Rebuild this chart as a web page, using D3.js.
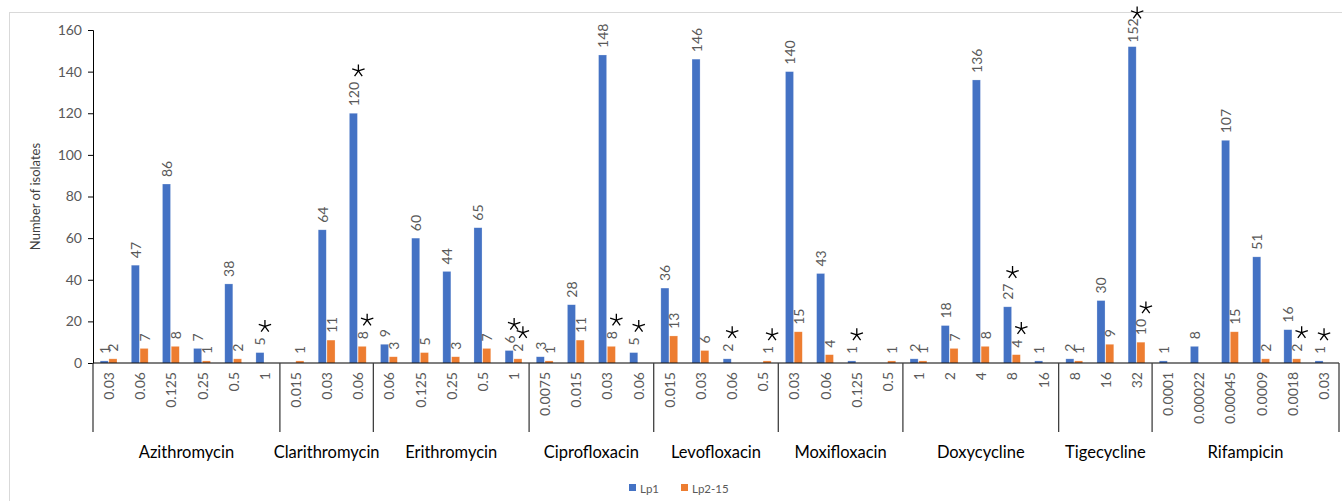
<!DOCTYPE html>
<html>
<head>
<meta charset="utf-8">
<title>MIC distribution</title>
<script src="https://cdn.jsdelivr.net/npm/d3@7"></script>
<style>
  html, body { margin: 0; padding: 0; background: #fff; }
  svg { display: block; font-family: Lato, "Open Sans", sans-serif; }
</style>
</head>
<body>
<div id="chart"></div>
<script>
// antibiotics and the MIC values (mg/L) tested for each
var groups = ["Azithromycin", "Clarithromycin", "Erithromycin", "Ciprofloxacin", "Levofloxacin",
              "Moxifloxacin", "Doxycycline", "Tigecycline", "Rifampicin"];
var concentrations = [
  ["0.03", "0.06", "0.125", "0.25", "0.5", "1"],
  ["0.015", "0.03", "0.06"],
  ["0.06", "0.125", "0.25", "0.5", "1"],
  ["0.0075", "0.015", "0.03", "0.06"],
  ["0.015", "0.03", "0.06", "0.5"],
  ["0.03", "0.06", "0.125", "0.5"],
  ["1", "2", "4", "8", "16"],
  ["8", "16", "32"],
  ["0.0001", "0.00022", "0.00045", "0.0009", "0.0018", "0.03"]
];
var seriesNames = ["Lp1", "Lp2-15"];
var lp1 = [1, 47, 86, 7, 38, 5,   0, 64, 120,   9, 60, 44, 65, 6,   3, 28, 148, 5,
           36, 146, 2, 0,   140, 43, 1, 0,   2, 18, 136, 27, 1,   2, 30, 152,
           1, 8, 107, 51, 16, 1];
var lp2 = [2, 7, 8, 1, 2, 0,   1, 11, 8,   3, 5, 3, 7, 2,   1, 11, 8, 0,
           13, 6, 0, 1,   15, 4, 0, 1,   1, 7, 8, 4, 0,   1, 9, 10,
           0, 0, 15, 2, 2, 0];
// 1 = value marked with a star
var starLp1 = [0, 0, 0, 0, 0, 1,   0, 0, 1,   0, 0, 0, 0, 1,   0, 0, 0, 1,
               0, 0, 1, 0,   0, 0, 1, 0,   0, 0, 0, 1, 0,   0, 0, 1,
               0, 0, 0, 0, 0, 1];
var starLp2 = [0, 0, 0, 0, 0, 0,   0, 0, 1,   0, 0, 0, 0, 1,   0, 0, 1, 0,
               0, 0, 0, 1,   0, 0, 0, 0,   0, 0, 0, 1, 0,   0, 0, 1,
               0, 0, 0, 0, 1, 0];
var yTicks = [0, 20, 40, 60, 80, 100, 120, 140, 160];
var colors = ["#4472C4", "#ED7D31"];

var W = 1342, H = 501;
var plotLeft = 93, plotRight = 1339, plotTop = 30, base = 363;

// flatten categories
var cats = [];
concentrations.forEach(function (list, g) {
  list.forEach(function (c) { cats.push({ group: g, label: c }); });
});
cats.forEach(function (d, i) {
  d.i = i;
  d.values = [lp1[i], lp2[i]];
  d.stars = [starLp1[i], starLp2[i]];
});

var svg = d3.select("#chart").append("svg").attr("width", W).attr("height", H);

// chart border
svg.append("rect").attr("x", 9.5).attr("y", 12.5).attr("width", 1345).attr("height", 500)
  .attr("fill", "none").attr("stroke", "#d9d9d9");

var x = d3.scaleBand().domain(d3.range(cats.length)).range([plotLeft, plotRight]);
var xs = d3.scaleBand().domain(d3.range(seriesNames.length))
  .range([x.bandwidth() * 0.23, x.bandwidth() * 0.77]).paddingInner(0.08);
var y = d3.scaleLinear().domain([0, 160]).range([base, plotTop]);

// y axis
var yAxis = svg.append("g").attr("transform", "translate(" + plotLeft + ",0)")
  .call(d3.axisLeft(y).tickValues(yTicks).tickSize(5).tickPadding(6));
yAxis.select(".domain").attr("stroke", "#000");
yAxis.selectAll(".tick line").attr("stroke", "#000");
yAxis.selectAll(".tick text").attr("fill", "#595959").style("font-size", "14px")
  .style("font-family", "Lato, sans-serif");

svg.append("text")
  .attr("transform", "translate(40," + (plotTop + base) / 2 + ") rotate(-90)")
  .attr("text-anchor", "middle").attr("fill", "#404040").style("font-size", "13px")
  .text("Number of isolates");

// bars
var catG = svg.selectAll("g.cat").data(cats).enter().append("g")
  .attr("class", "cat").attr("transform", function (d) { return "translate(" + x(d.i) + ",0)"; });

catG.selectAll("rect").data(function (d) { return d.values; }).enter().append("rect")
  .attr("x", function (v, s) { return xs(s); })
  .attr("width", xs.bandwidth())
  .attr("y", function (v) { return y(v); })
  .attr("height", function (v) { return base - y(v); })
  .attr("fill", function (v, s) { return colors[s]; })
  .attr("stroke", "#ffffff").attr("stroke-opacity", 0.4).attr("stroke-width", 0.6);

// value labels + stars
cats.forEach(function (d) {
  d.values.forEach(function (v, s) {
    if (!v) return;
    var cx = x(d.i) + xs(s) + xs.bandwidth() / 2;
    var ly = y(v) - (v > 150 ? 4 : 7);
    var t = svg.append("text")
      .attr("transform", "translate(" + cx + "," + ly + ") rotate(-90)")
      .attr("text-anchor", "start").attr("dominant-baseline", "central")
      .attr("fill", "#595959").style("font-size", "14px")
      .text(v);
    if (d.stars[s]) {
      var len = t.node().getComputedTextLength();
      var sx = cx + 5, sy = Math.max(ly - len - 11, 13), r = 6.5;
      var p = "";
      for (var k = 0; k < 5; k++) {
        var a = -Math.PI / 2 + k * 2 * Math.PI / 5;
        p += "M" + sx + "," + sy + "L" + (sx + r * Math.cos(a)) + "," + (sy + r * Math.sin(a));
      }
      svg.append("path").attr("d", p).attr("stroke", "#000").attr("stroke-width", 1.3).attr("fill", "none");
    }
  });
});

// x axis line
svg.append("line").attr("x1", plotLeft).attr("x2", plotRight).attr("y1", base).attr("y2", base)
  .attr("stroke", "#000").attr("stroke-width", 1.2);

// concentration labels
svg.selectAll("text.conc").data(cats).enter().append("text")
  .attr("class", "conc")
  .attr("transform", function (d) { return "translate(" + (x(d.i) + x.bandwidth() / 2) + "," + (base + 9) + ") rotate(-90)"; })
  .attr("text-anchor", "end").attr("dominant-baseline", "central")
  .attr("fill", "#595959").style("font-size", "14px")
  .text(function (d) { return d.label; });

// group dividers and names
var starts = [0];
concentrations.forEach(function (list, g) { starts.push(starts[g] + list.length); });
starts.forEach(function (s) {
  var xx = s < cats.length ? x(s) : plotRight;
  svg.append("line").attr("x1", xx).attr("x2", xx).attr("y1", base).attr("y2", 432)
    .attr("stroke", "#404040").attr("stroke-width", 1.3);
});
groups.forEach(function (g, k) {
  var a = x(starts[k]), b = starts[k + 1] < cats.length ? x(starts[k + 1]) : plotRight;
  svg.append("text").attr("x", (a + b) / 2).attr("y", 458)
    .attr("text-anchor", "middle").attr("fill", "#000").style("font-size", "16.5px")
    .text(g);
});

// legend
var leg = svg.selectAll("g.leg").data(seriesNames).enter().append("g").attr("class", "leg")
  .attr("transform", function (d, i) { return "translate(" + (629 + i * 52) + ",484)"; });
leg.append("rect").attr("width", 7).attr("height", 7).attr("fill", function (d, i) { return colors[i]; });
leg.append("text").attr("x", 11).attr("y", 4).attr("dominant-baseline", "central")
  .attr("fill", "#595959").style("font-size", "11.5px").text(function (d) { return d; });
</script>
</body>
</html>
